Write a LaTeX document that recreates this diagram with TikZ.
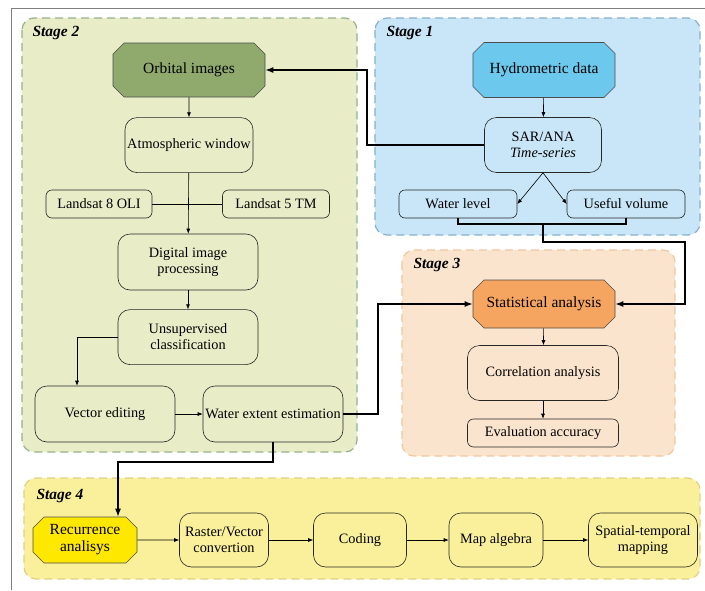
\documentclass[tikz,border=0pt]{standalone}
\usepackage{fontspec}
\setmainfont{Liberation Serif}
\usetikzlibrary{arrows.meta,positioning,shapes.misc,calc}

\definecolor{greenbg}{RGB}{232,237,200}
\definecolor{greenline}{RGB}{150,175,140}
\definecolor{greendark}{RGB}{143,170,108}
\definecolor{bluebg}{RGB}{200,230,248}
\definecolor{blueline}{RGB}{135,175,205}
\definecolor{bluedark}{RGB}{108,200,236}
\definecolor{orangebg}{RGB}{251,228,205}
\definecolor{orangeline}{RGB}{240,200,160}
\definecolor{orangedark}{RGB}{245,165,95}
\definecolor{yellowbg}{RGB}{250,240,155}
\definecolor{yellowline}{RGB}{222,210,130}
\definecolor{yellowdark}{RGB}{255,232,0}

\begin{document}
\begin{tikzpicture}[
    x=1pt, y=-1pt,
    font=\fontsize{14.3}{16}\selectfont,
    % --- stage frames ---
    stage/.style={
        line width=1.2pt,
        dash pattern=on 8pt off 5pt,
        rounded corners=12pt
    },
    stage title/.style={
        anchor=west,
        font=\fontsize{15.5}{17}\selectfont\bfseries\itshape
    },
    % --- boxes ---
    step box/.style={
        draw=black!85,
        line width=0.6pt,
        rounded corners=12pt,
        align=center,
        inner sep=2pt
    },
    small box/.style={
        step box,
        rounded corners=6pt,
        minimum height=28pt
    },
    key box/.style={
        draw=black!70,
        line width=0.6pt,
        chamfered rectangle,
        chamfered rectangle xsep=5.5pt,
        chamfered rectangle ysep=5.5pt,
        align=center,
        inner sep=2pt,
        font=\fontsize{15.5}{17}\selectfont
    },
    % --- connectors ---
    flow/.style={line width=0.6pt, -{Latex[length=5pt,width=4pt]}},
    link/.style={line width=1.3pt, -{Latex[length=8pt,width=6pt]}}
]

    \useasboundingbox (0,0) rectangle (705,590);

    % outer frame (cut on right and bottom)
    \draw[gray, line width=0.8pt] (705,8) -- (11,8) -- (11,590);

    % ====== stage frames ======
    \draw[stage, draw=greenline, fill=greenbg] (22,18) rectangle (357,452);
    \draw[stage, draw=blueline, fill=bluebg] (375,18) rectangle (700,235);
    \draw[stage, draw=orangeline, fill=orangebg] (402,250) rectangle (675,456);
    \draw[stage, draw=yellowline, fill=yellowbg] (24,478) rectangle (700,579);

    \node[stage title] (title2) at (29,33) {Stage 2};
    \node[stage title] (title1) at (383,33) {Stage 1};
    \node[stage title] (title3) at (410,265) {Stage 3};
    \node[stage title] (title4) at (33,496) {Stage 4};

    % ====== Stage 2 ======
    \node[key box, fill=greendark, minimum width=152pt, minimum height=54pt] (orbital) at (189,70) {Orbital images};
    \node[step box, minimum width=128pt, minimum height=55pt, below=20pt of orbital] (atmos) {Atmospheric window};
    \node[small box, minimum width=106pt] (landsat8) at (99,204) {Landsat 8 OLI};
    \node[small box, minimum width=107pt] (landsat5) at (276,204) {Landsat 5 TM};
    \node[step box, minimum width=140pt, minimum height=56pt] (dip) at (188,262) {Digital image\\processing};
    \node[step box, minimum width=140pt, minimum height=55pt, below=19pt of dip] (unsup) {Unsupervised\\classification};
    \node[step box, minimum width=140pt, minimum height=56pt] (vecedit) at (105,414) {Vector editing};
    \node[step box, minimum width=140pt, minimum height=56pt] (waterext) at (273,414) {Water extent estimation};

    % ====== Stage 1 ======
    \node[key box, fill=bluedark, minimum width=142pt, minimum height=55pt] (hydro) at (544,70) {Hydrometric data};
    \node[step box, minimum width=117pt, minimum height=55pt] (sarana) at (543,145) {SAR/ANA\\\textit{Time-series}};
    \node[small box, minimum width=118pt] (wlevel) at (458,204) {Water level};
    \node[small box, minimum width=118pt] (uvol) at (626,204) {Useful volume};

    % ====== Stage 3 ======
    \node[key box, fill=orangedark, minimum width=142pt, minimum height=48pt] (stat) at (544,304) {Statistical analysis};
    \node[step box, minimum width=151pt, minimum height=55pt] (corr) at (543,373) {Correlation analysis};
    \node[small box, minimum width=151pt] (evalacc) at (543,433) {Evaluation accuracy};

    % ====== Stage 4 ======
    \node[key box, fill=yellowdark, minimum width=104pt, minimum height=46pt] (recur) at (85,540) {Recurrence\\analisys};
    \node[step box, minimum width=89pt, minimum height=54pt] (raster) at (224,540) {Raster/Vector\\convertion};
    \node[step box, minimum width=93pt, minimum height=54pt] (coding) at (360,540) {Coding};
    \node[step box, minimum width=94pt, minimum height=54pt] (mapalg) at (496,540) {Map algebra};
    \node[step box, minimum width=109pt, minimum height=54pt] (spatial) at (643,540) {Spatial-temporal\\mapping};

    % ====== turning points ======
    \coordinate (sarturn) at (367,145);
    \coordinate (merge) at (543,224);
    \coordinate (volturn) at (685,242);
    \coordinate (extturn) at (378,414);
    \coordinate (extdrop) at (273,462);

    % ====== connectors ======
    \draw[flow] (orbital) -- (atmos);
    \draw[line width=0.6pt] (landsat8) -- (landsat5);
    \draw[flow] (atmos) -- (dip);
    \draw[flow] (dip) -- (unsup);
    \draw[flow] (unsup.west) -| ([xshift=-28pt]vecedit.north);
    \draw[flow] (vecedit) -- (waterext);

    \draw[flow] (hydro) -- (sarana);
    \draw[flow] (sarana.south) -- (wlevel.east);
    \draw[flow] (sarana.south) -- (uvol.west);

    \draw[flow] (stat) -- (corr);
    \draw[flow] (corr) -- (evalacc);

    \draw[flow] (recur) -- (raster);
    \draw[flow] (raster) -- (coding);
    \draw[flow] (coding) -- (mapalg);
    \draw[flow] (mapalg) -- (spatial);

    % links between stages
    \draw[link] (sarana.west) -- (sarturn) |- (orbital.east);
    \draw[line width=1.3pt] (wlevel.south) |- (merge) -| (uvol.south);
    \draw[link] (merge) |- (volturn) |- (stat.east);
    \draw[link] (waterext.east) -- (extturn) |- (stat.west);
    \draw[link] (waterext.south) -- (extdrop) -| ([xshift=33pt]recur.north);

\end{tikzpicture}
\end{document}
